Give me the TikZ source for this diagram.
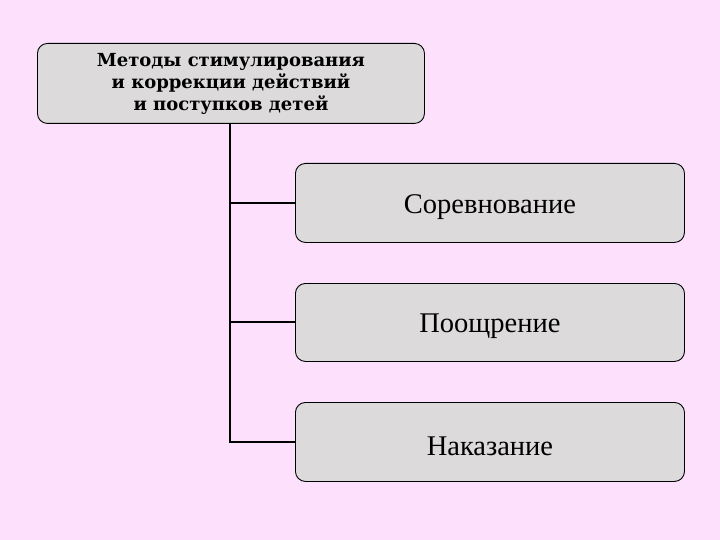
\documentclass[tikz,border=0pt]{standalone}
\usepackage{fontspec}
\setmainfont{Liberation Serif}
\newfontfamily\topfont{DejaVu Serif}
\definecolor{bgpink}{HTML}{FDE0FC}
\definecolor{boxgray}{HTML}{DCDADB}
\begin{document}
\begin{tikzpicture}[x=1pt,y=-1pt,
  boxstyle/.style={draw=black, line width=0.9pt, fill=boxgray, rounded corners=10pt, anchor=north west, inner sep=0pt},
  itemstyle/.style={boxstyle, minimum width=389pt, minimum height=79pt},
  itemtext/.style={font=\fontsize{28.5}{32}\selectfont, inner sep=0pt, yshift=-4pt},
  linkstyle/.style={draw=black, line width=2pt}]
\fill[bgpink] (0,0) rectangle (720,540);
\useasboundingbox (0,0) rectangle (720,540);
\node[boxstyle, minimum width=387pt, minimum height=80pt, align=center, font=\topfont\bfseries\fontsize{18}{22}\selectfont] (top) at (37,43) {\raisebox{3pt}{\parbox{380pt}{\centering Методы стимулирования\\ и коррекции действий\\ и поступков детей}}};
\node[itemstyle] (b1) at (295,163) {};
\node[itemstyle, minimum height=78pt] (b2) at (295,283) {};
\node[itemstyle] (b3) at (295,402) {};
\node[itemtext] (t1) at (b1.center) {Соревнование};
\node[itemtext] (t2) at (b2.center) {Поощрение};
\node[itemtext] (t3) at (b3.center) {Наказание};
\coordinate (trunk) at (230,123);
\draw[linkstyle] (trunk) |- (b3.west);
\draw[linkstyle] (trunk |- b1.west) -- (b1.west);
\draw[linkstyle] (trunk |- b2.west) -- (b2.west);
\end{tikzpicture}
\end{document}
